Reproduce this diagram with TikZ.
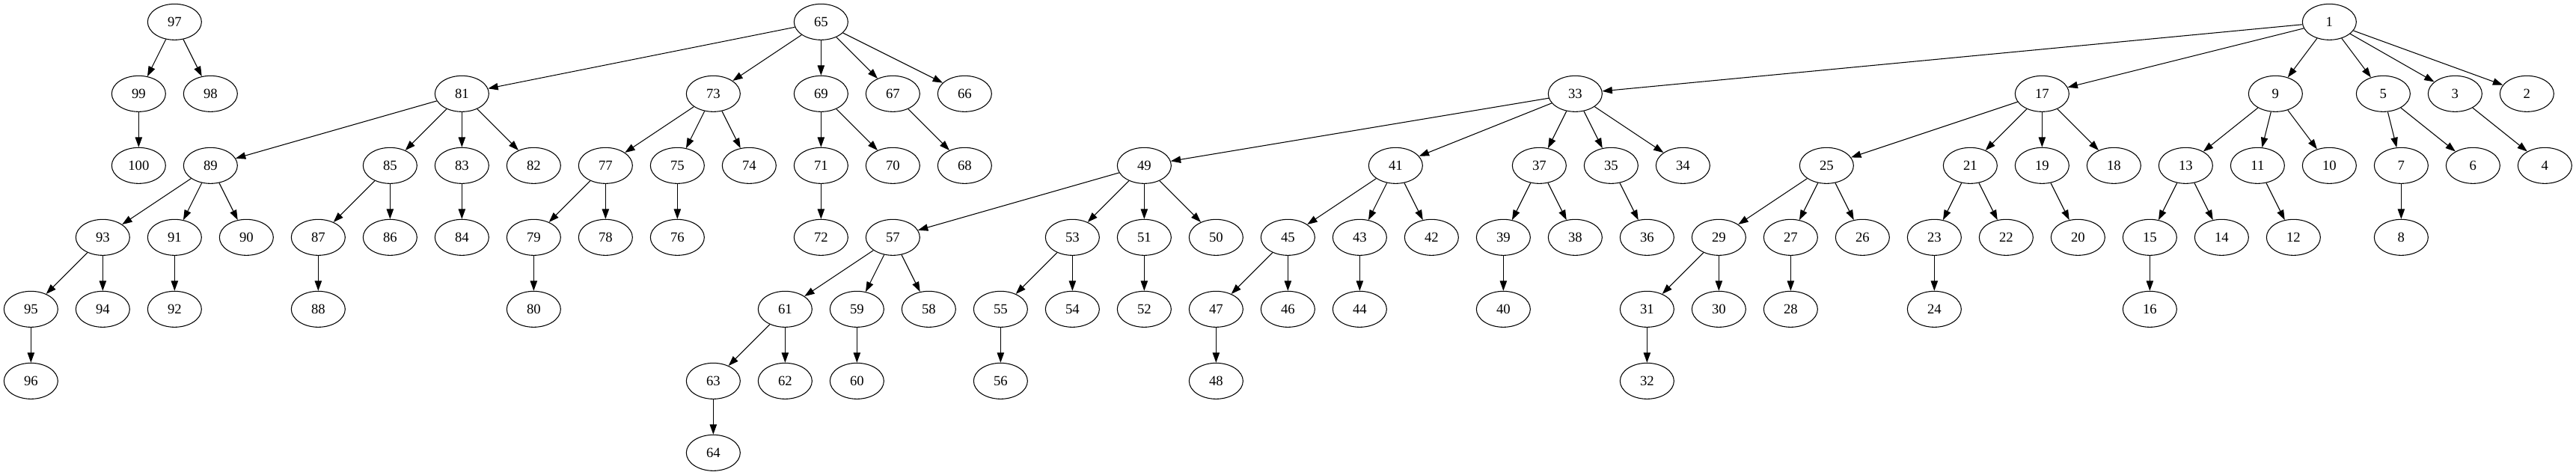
\documentclass[tikz,border=0pt]{standalone}
\usepackage{fontspec}
\setmainfont{Liberation Serif}
\usetikzlibrary{shapes.geometric,arrows.meta}
\begin{document}
\begin{tikzpicture}[x=1pt,y=1pt,
  vtx/.style={ellipse,draw,line width=0.8pt,minimum width=54pt,minimum height=36pt,inner sep=0pt,font=\fontsize{14}{16}\selectfont},
  edge/.style={line width=0.8pt,-{Triangle[length=10pt,width=7pt]}}]
\useasboundingbox (0,0) rectangle (2582.25,-476.25);
\foreach \n/\u/\r in {
 97/4/0, 99/3/1, 98/5/1, 100/3/2,
 65/22/0, 81/12/1, 73/19/1, 69/22/1, 67/24/1, 66/26/1,
 89/5/2, 85/10/2, 83/12/2, 82/14/2, 77/16/2, 75/18/2, 74/20/2, 71/22/2, 70/24/2, 68/26/2,
 93/2/3, 91/4/3, 90/6/3, 87/8/3, 86/10/3, 84/12/3, 79/14/3, 78/16/3, 76/18/3, 72/22/3,
 95/0/4, 94/2/4, 92/4/4, 88/8/4, 80/14/4,
 96/0/5,
 1/64/0,
 33/43/1, 17/56/1, 9/62.5/1, 5/65.5/1, 3/67.5/1, 2/69.5/1,
 49/31/2, 41/38/2, 37/42/2, 35/44/2, 34/46/2, 25/50/2, 21/54/2, 19/56/2, 18/58/2, 13/60/2, 11/62/2, 10/64/2, 7/66/2, 6/68/2, 4/70/2,
 57/24/3, 53/29/3, 51/31/3, 50/33/3, 45/35/3, 43/37/3, 42/39/3, 39/41/3, 38/43/3, 36/45/3, 29/47/3, 27/49/3, 26/51/3, 23/53/3, 22/55/3, 20/57/3, 15/59/3, 14/61/3, 12/63/3, 8/66/3,
 61/21/4, 59/23/4, 58/25/4, 55/27/4, 54/29/4, 52/31/4, 47/33/4, 46/35/4, 44/37/4, 40/41/4, 31/45/4, 30/47/4, 28/49/4, 24/53/4, 16/59/4,
 63/19/5, 62/21/5, 60/23/5, 56/27/5, 48/33/5, 32/45/5,
 64/19/6}
 \node[vtx] (n\n) at ({31+36*\u},{-22-72*\r}) {\n};
\foreach \a/\b in {
 97/99, 97/98, 99/100,
 65/81, 65/73, 65/69, 65/67, 65/66,
 81/89, 81/85, 81/83, 81/82,
 89/93, 89/91, 89/90, 93/95, 93/94, 95/96, 91/92,
 85/87, 85/86, 87/88, 83/84,
 73/77, 73/75, 73/74, 77/79, 77/78, 79/80, 75/76,
 69/71, 69/70, 71/72, 67/68,
 1/33, 1/17, 1/9, 1/5, 1/3, 1/2,
 33/49, 33/41, 33/37, 33/35, 33/34,
 49/57, 49/53, 49/51, 49/50,
 57/61, 57/59, 57/58, 61/63, 61/62, 63/64, 59/60,
 53/55, 53/54, 55/56, 51/52,
 41/45, 41/43, 41/42, 45/47, 45/46, 47/48, 43/44,
 37/39, 37/38, 39/40, 35/36,
 17/25, 17/21, 17/19, 17/18,
 25/29, 25/27, 25/26, 29/31, 29/30, 31/32, 27/28,
 21/23, 21/22, 23/24, 19/20,
 9/13, 9/11, 9/10, 13/15, 13/14, 15/16, 11/12,
 5/7, 5/6, 7/8, 3/4}
 \draw[edge] (n\a) -- (n\b);
\end{tikzpicture}
\end{document}
